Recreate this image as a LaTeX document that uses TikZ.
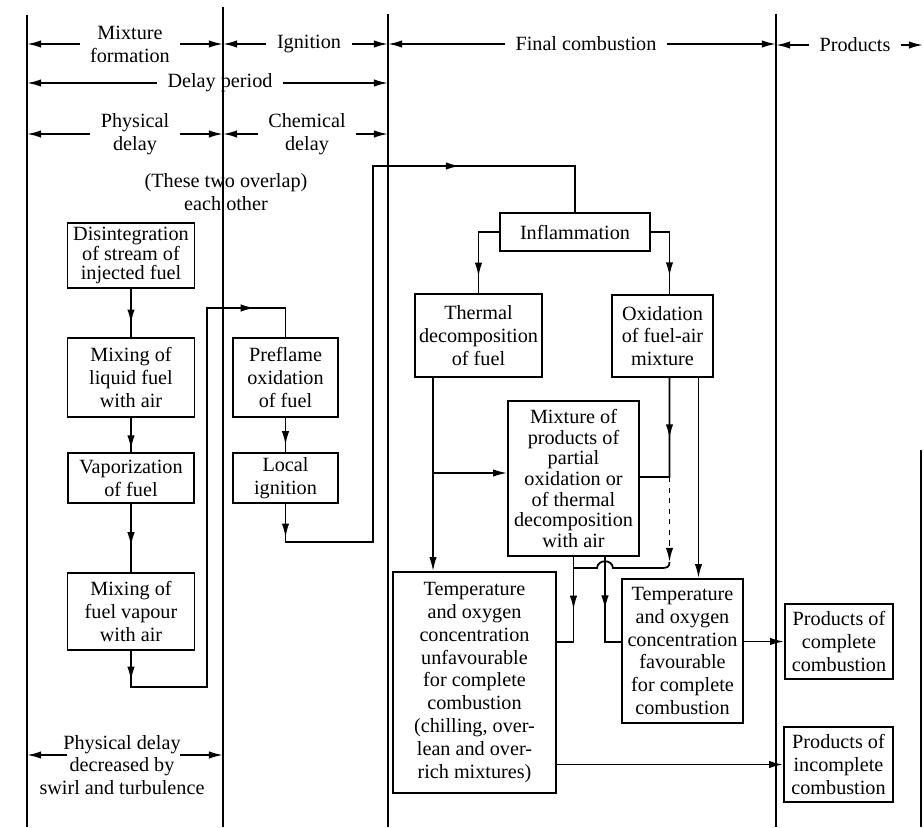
\documentclass[tikz,border=0pt]{standalone}
\usepackage{fontspec}
\setmainfont{Liberation Serif}
\usetikzlibrary{arrows.meta,decorations.markings}

\tikzset{
  blk/.style={draw, align=center, inner sep=1pt, font=\fontsize{11.5}{13}\selectfont},
  lbl/.style={align=center, inner sep=5.5pt, font=\fontsize{11.5}{13}\selectfont},
  flow/.style={postaction={decorate, decoration={markings,
      mark=at position #1 with {\arrow{Latex[length=8pt,width=4.2pt]}}}}},
}

\begin{document}
\begin{tikzpicture}[x=0.02cm, y=-0.02cm, line width=1pt, >={Latex[length=8pt,width=4.2pt]}]
  \fill[white] (0,0) rectangle (924,827);

  % Phase lines
  \coordinate (v1) at (27,0);
  \coordinate (v2) at (223,0);
  \coordinate (v3) at (388,0);
  \coordinate (v4) at (776,0);
  \draw (27,15) -- (27,827);
  \draw (223,7) -- (223,827);
  \draw (388,14) -- (388,827);
  \draw (776,14) -- (776,827);
  \draw (921,450) -- (921,827);

  % Phase labels
  \node[lbl] (mixf) at (130,44) {Mixture\\formation};
  \node[lbl] (ign) at (309,44) {Ignition};
  \node[lbl] (fin) at (586,44) {Final combustion};
  \node[lbl] (prod) at (855,45) {Products};
  \node[lbl] (dly) at (220,83) {Delay period};
  \node[lbl] (phys) at (135,134) {Physical\\delay};
  \node[lbl] (chem) at (307,134) {Chemical\\delay};
  \node[lbl, inner sep=0pt] (ovl) at (226,192) {(These two overlap)\\each other};
  \node[lbl] (pdd) at (122,765) {Physical delay\\decreased by\\swirl and turbulence};

  \draw[->] (mixf.west) -- (mixf.west -| v1);
  \draw[->] (mixf.east) -- (mixf.east -| v2);
  \draw[->] (ign.west) -- (ign.west -| v2);
  \draw[->] (ign.east) -- (ign.east -| v3);
  \draw[->] (fin.west) -- (fin.west -| v3);
  \draw[->] (fin.east) -- (fin.east -| v4);
  \draw[->] (prod.west) -- (prod.west -| v4);
  \draw[->] (prod.east) -- (923,45);
  \draw[->] (dly.west) -- (dly.west -| v1);
  \draw[->] (dly.east) -- (dly.east -| v3);
  \draw[->] (phys.west) -- (phys.west -| v1);
  \draw[->] (phys.east) -- (phys.east -| v2);
  \draw[->] (chem.west) -- (chem.west -| v2);
  \draw[->] (chem.east) -- (chem.east -| v3);
  \draw[->] (67,755) -- (27,755);
  \draw[->] (180,755) -- (223,755);

  % Physical delay
  \node[blk, minimum width=2.54cm, minimum height=1.30cm,
        font=\fontsize{11.5}{10.5}\selectfont] (dis) at (131,255.5)
        {Disintegration\\of stream of\\injected fuel};
  \node[blk, minimum width=2.54cm, minimum height=1.58cm] (mixliq) at (131,377.5)
        {Mixing of\\liquid fuel\\with air};
  \node[blk, minimum width=2.52cm, minimum height=1.00cm] (vap) at (131,478)
        {Vaporization\\of fuel};
  \node[blk, minimum width=2.54cm, minimum height=1.54cm] (mixvap) at (131,611.5)
        {Mixing of\\fuel vapour\\with air};

  % Chemical delay
  \node[blk, minimum width=2.10cm, minimum height=1.58cm] (preflame) at (285.5,377.5)
        {Preflame\\oxidation\\of fuel};
  \node[blk, minimum width=2.10cm, minimum height=1.00cm] (localign) at (285.5,478)
        {Local\\ignition};

  % Final combustion
  \node[blk, minimum width=3.00cm, minimum height=0.76cm] (inflam) at (575,232)
        {Inflammation};
  \node[blk, minimum width=2.54cm, minimum height=1.66cm] (thermal) at (478.5,335.5)
        {Thermal\\decomposition\\of fuel};
  \node[blk, minimum width=2.02cm, minimum height=1.64cm] (oxid) at (662.5,336)
        {Oxidation\\of fuel-air\\mixture};
  \node[blk, minimum width=2.62cm, minimum height=3.10cm,
        font=\fontsize{11.5}{11.8}\selectfont] (mixture) at (573.5,478.5)
        {Mixture of\\products of\\partial\\oxidation or\\of thermal\\decomposition\\with air};
  \node[blk, minimum width=3.26cm, minimum height=4.42cm] (tunfav) at (474.5,682.5)
        {Temperature\\and oxygen\\concentration\\unfavourable\\for complete\\combustion\\(chilling, over-\\lean and over-\\rich mixtures)};
  \node[blk, minimum width=2.42cm, minimum height=2.88cm] (tfav) at (682.5,651)
        {Temperature\\and oxygen\\concentration\\favourable\\for complete\\combustion};

  % Products
  \node[blk, minimum width=2.16cm, minimum height=1.50cm] (pcomp) at (839,641.5)
        {Products of\\complete\\combustion};
  \node[blk, minimum width=2.18cm, minimum height=1.50cm] (pincomp) at (838.5,764.5)
        {Products of\\incomplete\\combustion};

  % Flow, left part
  \draw[flow=0.72] (dis) -- (mixliq);
  \draw[flow=0.92] (mixliq) -- (vap);
  \draw[flow=0.62] (vap) -- (mixvap);
  \draw[flow=0.05, flow=0.9] (mixvap.south) -- ++(0,36) -| (207,308) -| (preflame.north);
  \draw[flow=0.8] (preflame) -- (localign);
  \draw[flow=0.045, flow=0.785] (localign.south) -- ++(0,38) -| (373,166) -| (inflam.north);

  % Flow, final combustion
  \draw[flow=0.8] (inflam.west) -| (thermal.north);
  \draw[flow=0.78] (inflam.east) -| ([xshift=0.14cm]oxid.north);
  \coordinate (tb) at (433,473);
  \draw[->] ([xshift=-0.91cm]thermal.south) -- ([xshift=-0.91cm]thermal.south |- tunfav.north);
  \draw[->] (tb) -- (tb -| mixture.west);
  \coordinate (oj) at (669.5,477);
  \coordinate (dj) at (669.5,562);
  \draw[flow=0.47] ([xshift=0.14cm]oxid.south) -- (oj) -- (oj -| mixture.east);
  \draw[dashed, ->] (oj) -- (dj);
  \draw[->] ([xshift=0.72cm]oxid.south) -- ([xshift=0.72cm]oxid.south |- tfav.north);
  \draw[flow=0.52] (mixture.south) |- ([yshift=0.81cm]tunfav.east);
  \draw[flow=0.52] ([xshift=0.63cm]mixture.south) |- ([yshift=0.18cm]tfav.west);
  % Hop over the right branch
  \coordinate (hl) at (573.5,568);
  \draw (hl) -- (597,568) .. controls (598,559) and (612,559) .. (613,568)
        -- (662,568) .. controls (667,568) and (669.5,567) .. (dj);

  % To products
  \draw[->] (pcomp.west -| tfav.east) -- (pcomp.west);
  \draw[->] (pincomp.west -| tunfav.east) -- (pincomp.west);
\end{tikzpicture}
\end{document}
